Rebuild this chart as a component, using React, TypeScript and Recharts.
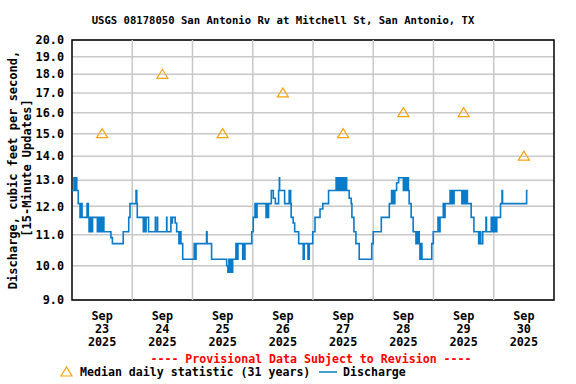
import {
  ComposedChart,
  Line,
  Scatter,
  XAxis,
  YAxis,
  CartesianGrid,
  ReferenceLine,
  ReferenceArea,
} from 'recharts'

// hours since Sep 23 00:00, discharge (cfs) at each change of the 15-minute record
const hours = [
  0, 0.8, 1.2, 1.4, 1.9, 2.5, 3.2, 3.6, 4.0, 6.0, 6.5, 6.8, 7.2, 7.6, 8.2,
  10.1, 10.6, 11.0, 11.4, 11.9, 12.3, 12.7, 15.5, 16.1, 20.4, 22.6, 23.1, 25.5,
  25.8, 26.0, 28.4, 28.9, 29.3, 29.5, 30.5, 33.2, 33.3, 34.0, 34.1, 37.7, 37.8,
  39.4, 39.8, 40.0, 41.1, 41.7, 42.6, 43.0, 43.4, 44.1, 48.7, 49.0, 49.4, 53.6,
  53.8, 55.6, 61.6, 62.1, 62.5, 62.9, 63.3, 63.6, 64.0, 65.3, 65.7, 66.1, 68.0,
  68.4, 68.7, 68.9, 71.6, 72.2, 72.9, 73.3, 73.7, 77.3, 77.9, 78.1, 78.3, 79.4,
  80.2, 81.0, 82.3, 82.6, 82.7, 84.7, 86.5, 87.1, 87.3, 88.1, 88.7, 90.3, 92.1,
  92.5, 94.0, 94.5, 95.9, 96.8, 98.8, 99.9, 102.2, 105.2, 105.6, 106.1, 106.6,
  107.0, 107.4, 107.8, 108.4, 109.0, 109.4, 110.4, 111.2, 111.5, 112.3, 113.1,
  114.4, 119.4, 120.0, 123.2, 126.4, 127.3, 127.6, 128.0, 128.2, 128.6, 129.3,
  130.1, 132.0, 132.5, 133.0, 133.5, 134.0, 134.3, 135.1, 135.9, 137.0, 137.3,
  137.8, 138.1, 138.3, 138.6, 139.0, 139.4, 143.3, 143.9, 145.8, 146.2, 146.6,
  147.9, 148.2, 148.6, 150.6, 151.0, 151.4, 151.8, 152.2, 155.3, 155.9, 156.5,
  156.9, 157.5, 159.0, 160.1, 162.0, 162.4, 162.8, 163.6, 164.9, 165.1, 167.0,
  167.2, 167.7, 168.1, 168.5, 168.9, 169.2, 170.7, 171.3, 171.5, 181.1, 181.5,
]
const cfs = [
  12.6, 13.1, 12.6, 13.1, 12.6, 12.1, 11.6, 12.1, 11.6, 12.1, 11.6, 11.1, 11.6, 11.1, 11.6,
  11.1, 11.6, 11.1, 11.6, 11.1, 11.6, 11.1, 10.9, 10.7, 11.1, 11.6, 12.1, 12.6,
  12.1, 11.6, 11.1, 11.6, 11.1, 11.6, 11.1, 11.6, 11.1, 11.6, 11.1, 11.6, 11.1,
  11.6, 11.4, 11.6, 11.4, 11.1, 10.7, 11.1, 10.7, 10.2, 10.7, 10.2, 10.7, 11.1,
  10.7, 10.2, 10.0, 9.8, 10.2, 9.8, 10.2, 9.8, 10.2, 10.7, 10.2, 10.7, 10.2,
  10.7, 10.2, 10.7, 11.1, 11.6, 12.1, 11.6, 12.1, 11.6, 12.1, 11.6, 12.1, 12.6,
  12.3, 12.1, 12.6, 13.1, 12.6, 12.1, 12.6, 12.1, 11.6, 11.4, 11.1, 10.7, 10.2,
  10.7, 10.2, 10.7, 11.1, 11.6, 11.9, 12.1, 12.6, 13.1, 12.6, 13.1, 12.6,
  13.1, 12.6, 13.1, 12.6, 13.1, 12.6, 12.3, 12.1, 11.6, 11.1, 10.7,
  10.2, 10.7, 11.1, 11.6, 12.1, 12.6, 12.1, 12.6, 12.1, 12.6, 12.9,
  13.1, 12.6, 13.1, 12.6, 13.1, 12.6, 12.1, 11.6, 11.1, 10.7, 11.1,
  10.7, 11.1, 10.7, 10.2, 10.7, 10.2, 10.7, 11.1, 11.6, 11.1, 11.6,
  12.1, 11.6, 12.1, 12.6, 12.1, 12.6, 12.1, 12.6, 12.1, 12.6, 12.1,
  12.6, 12.1, 11.6, 11.1, 10.7, 11.1, 10.7, 11.1, 11.6, 11.1, 11.6,
  11.1, 11.6, 11.1, 11.6, 11.1, 11.6, 12.1, 12.6, 12.1, 12.6, 12.6,
]

const medianHours = [12, 36, 60, 84, 108, 132, 156, 180]
const medianCfs = [15, 18, 15, 17, 15, 16, 16, 14]

const dayTicks = [12, 36, 60, 84, 108, 132, 156, 180]
const dayLabels = ['23', '24', '25', '26', '27', '28', '29', '30']
const dayBounds = [24, 48, 72, 96, 120, 144, 168]
const yTicks = [9, 10, 11, 12, 13, 14, 15, 16, 17, 18, 19, 20]

const FONT = '"DejaVu Sans Mono", "Liberation Mono", monospace'
const BLUE = '#0a7bc8'
const ORANGE = '#f5a30a'
const GRID = '#c8c8c8'

const flowData = hours.map((h, i) => ({ h, v: cfs[i] }))
const medianData = medianHours.map((h, i) => ({ h, v: medianCfs[i] }))

function DayTick({ x, y, payload }: any) {
  const i = dayTicks.indexOf(payload.value)
  return (
    <text x={x} y={y} textAnchor="middle" fontFamily={FONT} fontWeight="bold" fontSize={11.8} fill="#000">
      <tspan x={x} dy={18}>Sep</tspan>
      <tspan x={x} dy={13}>{dayLabels[i]}</tspan>
      <tspan x={x} dy={13}>2025</tspan>
    </text>
  )
}

function Triangle({ cx, cy }: any) {
  return (
    <polygon
      points={`${cx},${cy - 5} ${cx - 5.5},${cy + 4} ${cx + 5.5},${cy + 4}`}
      fill="none"
      stroke={ORANGE}
      strokeWidth={1.2}
    />
  )
}

export default function App() {
  return (
    <div style={{ position: 'absolute', left: 0, top: 0, width: 576, height: 384, background: '#fff' }}>
      <ComposedChart width={576} height={384} margin={{ top: 40, right: 22, bottom: 54, left: 0 }}>
        <CartesianGrid vertical={false} stroke={GRID} strokeWidth={1.5} />
        {dayBounds.map((d) => (
          <ReferenceLine key={d} x={d} stroke={GRID} strokeWidth={1.5} />
        ))}
        <XAxis
          dataKey="h"
          type="number"
          domain={[0, 192]}
          ticks={dayTicks}
          tick={<DayTick />}
          tickLine={false}
          axisLine={false}
          tickSize={0}
          height={30}
          allowDataOverflow
        />
        <YAxis
          type="number"
          scale="log"
          domain={[9, 20]}
          ticks={yTicks}
          interval={0}
          allowDataOverflow
          width={72}
          tickLine={false}
          axisLine={false}
          tickSize={0}
          tickMargin={8}
          tickFormatter={(v: number) => v.toFixed(1)}
          tick={{ fontFamily: FONT, fontWeight: 'bold', fontSize: 11.8, fill: '#000' }}
        />
        <Line
          data={flowData}
          dataKey="v"
          type="stepAfter"
          stroke={BLUE}
          strokeWidth={1.6}
          dot={false}
          isAnimationActive={false}
        />
        <Scatter data={medianData} dataKey="v" shape={<Triangle />} isAnimationActive={false} />
        <ReferenceArea x1={0} x2={192} y1={9} y2={20} fill="none" stroke="#000" strokeWidth={1.5} ifOverflow="visible" />
      </ComposedChart>
      <svg
        width={576}
        height={384}
        style={{ position: 'absolute', left: 0, top: 0, pointerEvents: 'none' }}
        fontFamily={FONT}
        fontWeight="bold"
      >
        <text x={283} y={24} textAnchor="middle" fontSize={10.6} fill="#000">
          USGS 08178050 San Antonio Rv at Mitchell St, San Antonio, TX
        </text>
        <text transform="translate(17,170) rotate(-90)" textAnchor="middle" fontSize={12} fill="#000">
          Discharge, cubic feet per second,
        </text>
        <text transform="translate(31,168) rotate(-90)" textAnchor="middle" fontSize={12} fill="#000">
          [15-Minute Updates]
        </text>
        <text x={311} y={363} textAnchor="middle" fontSize={11.6} fill="#ff0000">
          ---- Provisional Data Subject to Revision ----
        </text>
        <polygon points="66.5,367 61,376 72,376" fill="none" stroke={ORANGE} strokeWidth={1.2} />
        <text x={80} y={376} fontSize={11.6} fill="#000">
          Median daily statistic (31 years)
        </text>
        <line x1={319} y1={372} x2={337} y2={372} stroke={BLUE} strokeWidth={1.5} />
        <text x={343} y={376} fontSize={11.6} fill="#000">
          Discharge
        </text>
      </svg>
    </div>
  )
}
